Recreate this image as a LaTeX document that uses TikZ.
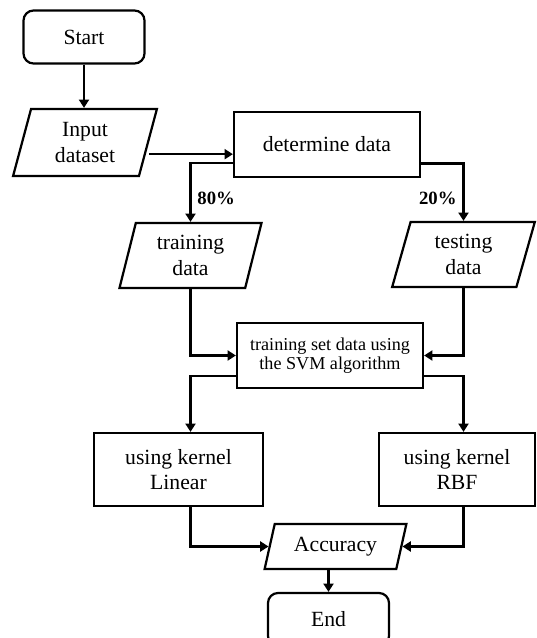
\documentclass[tikz,border=0pt]{standalone}
\usepackage{fontspec}
\setmainfont{Liberation Serif}
\usetikzlibrary{shapes.geometric,arrows.meta}
\begin{document}
\begin{tikzpicture}[x=0.03cm,y=-0.03cm,
    line width=1.9pt,
    txt/.style={font=\fontsize{18.5}{22}\selectfont,align=center,inner sep=0pt},
    term/.style={txt,draw,rounded corners=0.3cm,minimum width=3.63cm,minimum height=1.59cm},
    proc/.style={txt,draw,minimum width=5.58cm,minimum height=1.95cm},
    io/.style={txt,draw,trapezium,trapezium left angle=76,trapezium right angle=104,
      trapezium stretches=true,minimum width=4.29cm,minimum height=1.95cm},
    pct/.style={font=\fontsize{16}{18}\selectfont\bfseries,inner sep=0pt}]
  \useasboundingbox (0,0) rectangle (537,638);
  \draw
    (84,37) node[term] (start){Start}
    (85,142.5) node[io,minimum width=4.32cm,minimum height=2.01cm] (input){Input\\dataset}
    (327,144.5) node[proc] (determine){determine data}
    (190.5,255.5) node[io] (training){training\\data}
    (463.5,254.5) node[io] (testing){testing\\data}
    (330,355.5) node[proc,font=\fontsize{15.5}{16.5}\selectfont] (svm){training set data using\\the SVM algorithm}
    (178.5,469.5) node[proc,minimum width=5.07cm,minimum height=2.19cm] (linear){using kernel\\Linear}
    (457,469.5) node[proc,minimum width=4.68cm,minimum height=2.19cm] (rbf){using kernel\\RBF}
    (335.5,546.5) node[io,trapezium left angle=70,trapezium right angle=110,minimum height=1.35cm] (accuracy){Accuracy}
    (328.5,619.5) node[term] (finish){End};
  \begin{scope}[-{Triangle[length=0.25cm,width=0.3cm]}]
    \draw (start) -- (start |- input.north);
    \draw ([yshift=-0.35cm]input.east) -- ([yshift=-0.35cm]input.east -| determine.west);
    \draw ([yshift=-0.56cm]determine.west) -| node[pct,pos=0.8,right=5pt]{80\%} (training.north);
    \draw ([yshift=-0.57cm]determine.east) -| node[pct,pos=0.8,left=5pt]{20\%} (testing.north);
    \draw (training.south) |- (svm.west);
    \draw (testing.south) |- (svm.east);
    \draw ([yshift=-0.615cm]svm.west) -| (training.south |- linear.north);
    \draw ([yshift=-0.615cm]svm.east) -| (testing.south |- rbf.north);
    \draw (training.south |- linear.south) |- (accuracy.west);
    \draw (testing.south |- rbf.south) |- (accuracy.east);
    \draw (finish.north |- accuracy.south) -- (finish.north);
  \end{scope}
\end{tikzpicture}
\end{document}
